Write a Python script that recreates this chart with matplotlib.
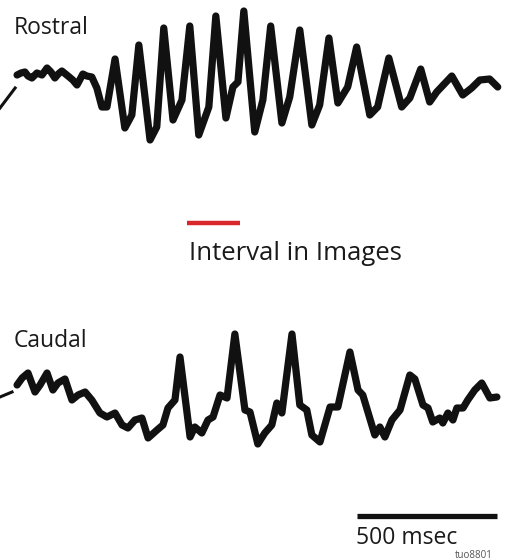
import matplotlib
matplotlib.use("Agg")
import matplotlib.pyplot as plt

# Rostral trace: time (msec) and amplitude (a.u., baseline = 0)
rostral_stub_t = [0, 54]
rostral_stub_v = [-30, -10]
rostral_t = [61, 75, 89, 100, 114, 132, 150, 168, 182, 196, 208, 221, 243, 260,
             275, 296, 310, 328, 346, 364, 382,
             411, 446, 471, 496, 536, 560, 585, 618, 650, 678, 710, 746, 771, 807,
             832, 850, 871, 910, 939, 967, 1007, 1035, 1071, 1114, 1142, 1175, 1207,
             1242, 1274, 1321, 1349, 1389, 1435, 1464, 1503, 1535, 1560, 1614, 1653,
             1685, 1714, 1749, 1778]
rostral_v = [3, 5, 6, 2, 0, 5, 3, 10, 6, 0, 4, 7, 2, -2,
             -7, 4, 2, 1, -10, -29, -29,
             19, -50, -37, 33, -62, -49, 50, -42, -22, 52, -57, -29, 62, -40,
             -9, -4, 67, -54, -22, 52, -45, -19, 48, -47, -27, 40, -25,
             -9, 31, -37, -29, 20, -29, -20, 9, -24, -14, 2, -17,
             -10, -2, -1, -9]

# Caudal trace
caudal_stub_t = [0, 43]
caudal_stub_v = [3, 8]
caudal_t = [61, 79, 100, 125, 143, 168, 189, 207, 232, 257, 279, 304, 328, 357,
            382, 411, 436, 457, 482, 507, 529, 561, 582, 600, 625, 643, 679, 696,
            721, 743, 761, 786, 811, 839, 875, 893, 921, 946, 971, 989, 1007, 1043,
            1071, 1096, 1114, 1143, 1179, 1207, 1250, 1279, 1296, 1339, 1357, 1375,
            1400, 1429, 1464, 1482, 1511, 1529, 1546, 1571, 1582, 1600, 1618, 1632,
            1654, 1671, 1696, 1721, 1750, 1775]
caudal_v = [15, 22, 27, 8, 15, 27, 10, 17, 21, 0, 5, 8, 0, -13,
            -17, -13, -25, -28, -20, -18, -38, -30, -25, -8, 0, 43, -37, -27,
            -33, -20, -17, 5, 2, 66, -10, -12, -44, -33, -25, -3, -13, 66,
            -5, -10, -35, -42, -7, -7, 48, 10, 5, -35, -27, -37,
            -20, -10, 25, 21, -5, -8, -22, -18, -23, -13, -20, -8,
            -8, 0, 10, 17, 2, 3]

interval_ms = [668, 857]
scalebar_start = 1275
scalebar_len = 500
t_max = 1804

fig = plt.figure(figsize=(5.05, 5.6), dpi=100)
W, H = 505.0, 560.0
font = ["Open Sans", "DejaVu Sans"]

ax_r = fig.add_axes([0, (H - 150) / H, 1, 150 / H])
ax_c = fig.add_axes([0, (H - 460) / H, 1, 150 / H])
ax_a = fig.add_axes([0, 0, 1, 1])

lw = 5.2
for ax, st, sv, t, v, lim in [
    (ax_r, rostral_stub_t, rostral_stub_v, rostral_t, rostral_v, (-72, 78)),
    (ax_c, caudal_stub_t, caudal_stub_v, caudal_t, caudal_v, (-60, 90)),
]:
    ax.plot(st, sv, color="#111111", lw=2.2)
    ax.plot(t, v, color="#111111", lw=lw, solid_joinstyle="round",
            solid_capstyle="round")
    ax.set_xlim(0, t_max)
    ax.set_ylim(*lim)
    ax.axis("off")

ax_a.set_xlim(0, t_max)
ax_a.set_ylim(H, 0)
ax_a.axis("off")
ax_a.patch.set_alpha(0)

ax_a.plot(interval_ms, [223, 223], color="#d9262b", lw=3.2, solid_capstyle="butt")
ax_a.plot([scalebar_start, scalebar_start + scalebar_len], [516, 516],
          color="#111111", lw=3.8, solid_capstyle="butt")

fig.text(14 / W, 1 - 28 / H, "Rostral", family=font, fontsize=16.5,
         color="#1a1a1a", va="center", ha="left")
fig.text(14 / W, 1 - 341 / H, "Caudal", family=font, fontsize=16.5,
         color="#1a1a1a", va="center", ha="left")
fig.text(189 / W, 1 - 254 / H, "Interval in Images", family=font, fontsize=18.5,
         color="#1a1a1a", va="center", ha="left")
fig.text(356 / W, 1 - 538 / H, "500 msec", family=font, fontsize=16.5,
         color="#1a1a1a", va="center", ha="left")
fig.text(493 / W, 1 - 556 / H, "tuo8801", family=font, fontsize=7,
         color="#555555", va="center", ha="right")

fig.savefig("out.png", dpi=100)
